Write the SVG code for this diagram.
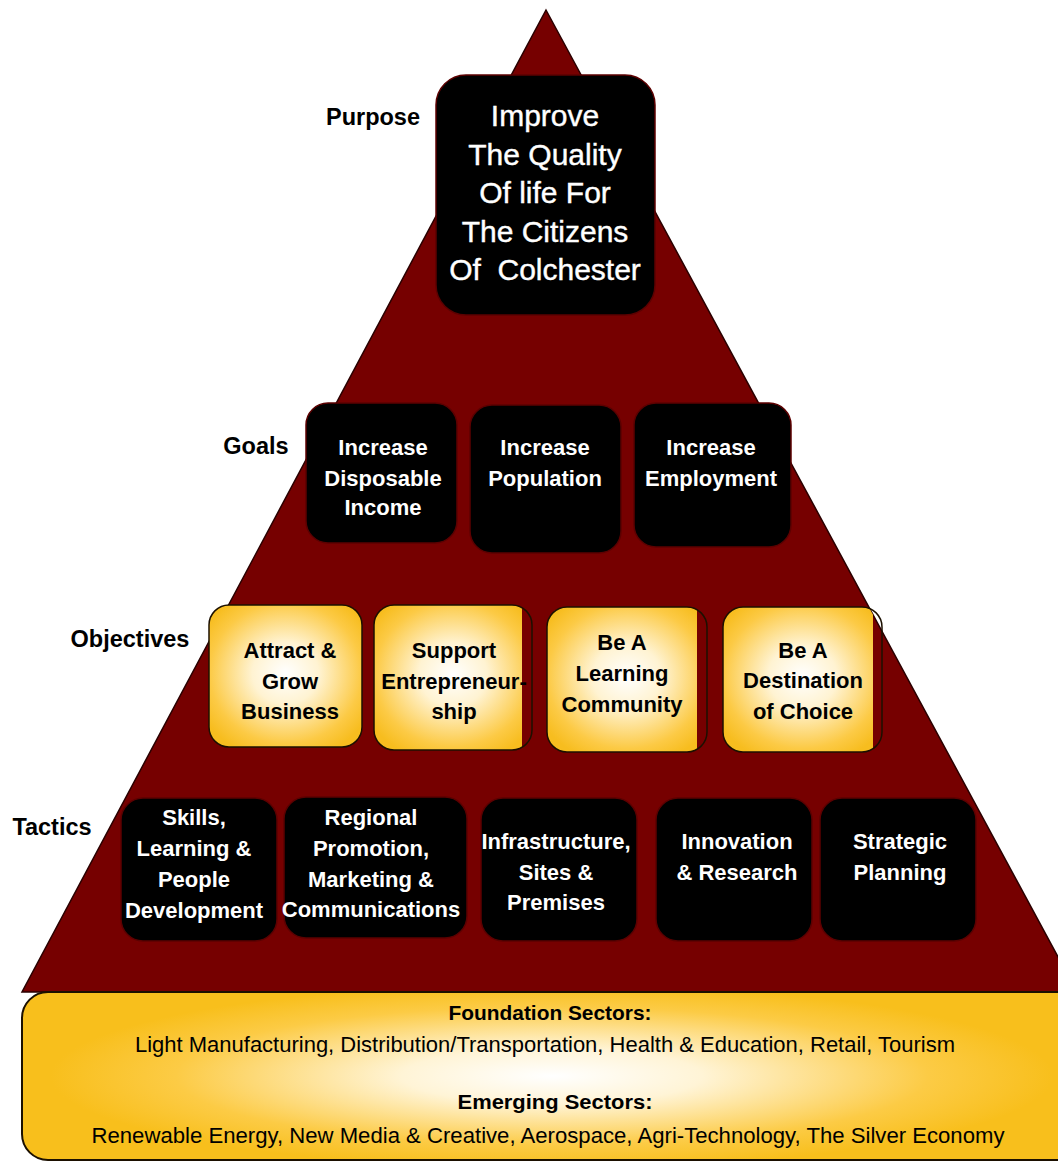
<svg xmlns="http://www.w3.org/2000/svg" width="1058" height="1163" viewBox="0 0 1058 1163">
  <defs>
    <radialGradient id="goldBox" cx="50%" cy="48%" r="62%">
      <stop offset="0" stop-color="#ffffff"/>
      <stop offset="0.35" stop-color="#fff3d2"/>
      <stop offset="0.8" stop-color="#fcca45"/>
      <stop offset="1" stop-color="#f7bd1f"/>
    </radialGradient>
    <radialGradient id="goldBand" cx="50%" cy="50%" r="55%" fx="50%" fy="50%" gradientTransform="translate(0.07 0) scale(0.86 1)">
      <stop offset="0" stop-color="#ffffff"/>
      <stop offset="0.3" stop-color="#fff4d6"/>
      <stop offset="0.75" stop-color="#fccb45"/>
      <stop offset="1" stop-color="#f8bf1c"/>
    </radialGradient>
    <clipPath id="pyramidClip">
      <polygon points="546,10 1077,992 22,992"/>
    </clipPath>
    <!-- gold fills stop short of the right-hand outline on these three boxes -->
    <clipPath id="cutEntre"><rect x="360" y="590" width="162" height="180"/></clipPath>
    <clipPath id="cutLearn"><rect x="540" y="590" width="157" height="180"/></clipPath>
    <clipPath id="cutDest"><rect x="710" y="590" width="163" height="180"/></clipPath>
  </defs>
  <style>
    .lbl { font-family: "Liberation Sans", Arial, sans-serif; font-weight: bold; font-size: 23.5px; fill: #000; text-anchor: middle; }
    .wt { font-family: "Liberation Sans", Arial, sans-serif; font-weight: bold; font-size: 22px; fill: #fff; text-anchor: middle; }
    .bk { font-family: "Liberation Sans", Arial, sans-serif; font-weight: bold; font-size: 22px; fill: #000; text-anchor: middle; }
    .big { font-family: "Liberation Sans", Arial, sans-serif; font-size: 30px; fill: #fff; stroke: #fff; stroke-width: 0.4; text-anchor: middle; white-space: pre; }
    .hd { font-family: "Liberation Sans", Arial, sans-serif; font-weight: bold; font-size: 21px; fill: #000; text-anchor: middle; }
    .tx { font-family: "Liberation Sans", Arial, sans-serif; font-size: 22px; fill: #000; text-anchor: middle; }
    .dark { fill: #000; stroke: #5c0000; stroke-width: 1.5; }
    .gold { fill: url(#goldBox); }
    .goldEdge { fill: none; stroke: #1c1000; stroke-width: 1.5; }
  </style>

  <rect width="1058" height="1163" fill="#ffffff"/>

  <!-- pyramid body -->
  <g id="pyramid">
    <polygon points="546,10 1077,992 22,992" fill="#760000" stroke="#2a0000" stroke-width="1.5"/>
  </g>

  <!-- tier labels -->
  <g id="labels">
    <text class="lbl" x="373" y="125">Purpose</text>
    <text class="lbl" x="256" y="454">Goals</text>
    <text class="lbl" x="130" y="647">Objectives</text>
    <text class="lbl" x="52" y="835">Tactics</text>
  </g>

  <!-- purpose -->
  <g id="purpose">
    <rect class="dark" x="436" y="75" width="219" height="240" rx="30" stroke="#8a0a0a" stroke-width="2"/>
    <text class="big" x="545" y="126">Improve</text>
    <text class="big" x="545" y="164.5">The Quality</text>
    <text class="big" x="545" y="203">Of life For</text>
    <text class="big" x="545" y="241.5">The Citizens</text>
    <text class="big" x="545" y="280">Of  Colchester</text>
  </g>

  <!-- goals -->
  <g id="goal-income">
    <rect class="dark" x="306" y="403" width="151" height="140" rx="22"/>
    <text class="wt" x="383" y="455">Increase</text>
    <text class="wt" x="383" y="485.5">Disposable</text>
    <text class="wt" x="383" y="515">Income</text>
  </g>
  <g id="goal-population">
    <rect class="dark" x="470" y="405" width="151" height="148" rx="22"/>
    <text class="wt" x="545" y="455">Increase</text>
    <text class="wt" x="545" y="485.5">Population</text>
  </g>
  <g id="goal-employment">
    <rect class="dark" x="634" y="403" width="157" height="144" rx="22"/>
    <text class="wt" x="711" y="455">Increase</text>
    <text class="wt" x="711" y="485.5">Employment</text>
  </g>

  <!-- objectives -->
  <g id="obj-business">
    <rect class="gold" x="209" y="605" width="153" height="142" rx="20"/>
    <rect class="goldEdge" x="209" y="605" width="153" height="142" rx="20"/>
    <text class="bk" x="290" y="658">Attract &amp;</text>
    <text class="bk" x="290" y="689">Grow</text>
    <text class="bk" x="290" y="719">Business</text>
  </g>
  <g id="obj-entrepreneurship">
    <g clip-path="url(#cutEntre)">
      <rect class="gold" x="374" y="605" width="158" height="145" rx="20"/>
    </g>
    <rect class="goldEdge" x="374" y="605" width="158" height="145" rx="20"/>
    <text class="bk" x="454" y="658">Support</text>
    <text class="bk" x="454" y="689">Entrepreneur-</text>
    <text class="bk" x="454" y="719">ship</text>
  </g>
  <g id="obj-learning">
    <g clip-path="url(#cutLearn)">
      <rect class="gold" x="547" y="607" width="160" height="145" rx="20"/>
    </g>
    <rect class="goldEdge" x="547" y="607" width="160" height="145" rx="20"/>
    <text class="bk" x="622" y="650">Be A</text>
    <text class="bk" x="622" y="681">Learning</text>
    <text class="bk" x="622" y="712">Community</text>
  </g>
  <g id="obj-destination">
    <g clip-path="url(#pyramidClip)">
      <g clip-path="url(#cutDest)">
        <rect class="gold" x="723" y="607" width="159" height="145" rx="20"/>
      </g>
    </g>
    <rect class="goldEdge" x="723" y="607" width="159" height="145" rx="20"/>
    <text class="bk" x="803" y="658">Be A</text>
    <text class="bk" x="803" y="688">Destination</text>
    <text class="bk" x="803" y="719">of Choice</text>
  </g>

  <!-- tactics -->
  <g id="tac-skills">
    <rect class="dark" x="121" y="798" width="156" height="143" rx="22"/>
    <text class="wt" x="194" y="825">Skills,</text>
    <text class="wt" x="194" y="856">Learning &amp;</text>
    <text class="wt" x="194" y="887">People</text>
    <text class="wt" x="194" y="918">Development</text>
  </g>
  <g id="tac-promotion">
    <rect class="dark" x="284" y="797" width="183" height="141" rx="22"/>
    <text class="wt" x="371" y="825">Regional</text>
    <text class="wt" x="371" y="856">Promotion,</text>
    <text class="wt" x="371" y="887">Marketing &amp;</text>
    <text class="wt" x="371" y="917">Communications</text>
  </g>
  <g id="tac-infrastructure">
    <rect class="dark" x="481" y="798" width="156" height="143" rx="22"/>
    <text class="wt" x="556" y="849">Infrastructure,</text>
    <text class="wt" x="556" y="880">Sites &amp;</text>
    <text class="wt" x="556" y="910">Premises</text>
  </g>
  <g id="tac-innovation">
    <rect class="dark" x="656" y="798" width="156" height="143" rx="22"/>
    <text class="wt" x="737" y="849">Innovation</text>
    <text class="wt" x="737" y="880">&amp; Research</text>
  </g>
  <g id="tac-planning">
    <rect class="dark" x="820" y="798" width="156" height="143" rx="22"/>
    <text class="wt" x="900" y="849">Strategic</text>
    <text class="wt" x="900" y="880">Planning</text>
  </g>

  <!-- sector foundation band -->
  <g id="sectors">
    <rect x="22" y="992" width="1060" height="168" rx="26" fill="url(#goldBand)" stroke="#1c1000" stroke-width="2"/>
    <text class="hd" x="550" y="1020" textLength="203" lengthAdjust="spacingAndGlyphs">Foundation Sectors:</text>
    <text class="tx" x="545" y="1052" textLength="820" lengthAdjust="spacingAndGlyphs">Light Manufacturing, Distribution/Transportation, Health &amp; Education, Retail, Tourism</text>
    <text class="hd" x="555" y="1109" textLength="195" lengthAdjust="spacingAndGlyphs">Emerging Sectors:</text>
    <text class="tx" x="548" y="1143" textLength="913" lengthAdjust="spacingAndGlyphs">Renewable Energy, New Media &amp; Creative, Aerospace, Agri-Technology, The Silver Economy</text>
  </g>

  <!-- no connectors in this layout -->
  <g id="connectors"/>
</svg>
